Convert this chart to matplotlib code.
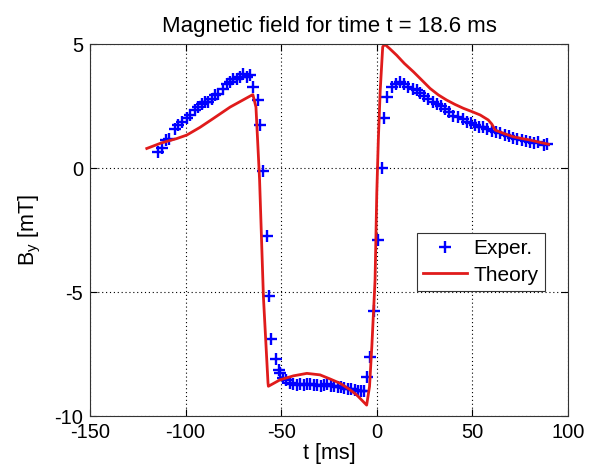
import numpy as np
import matplotlib.pyplot as plt

plt.rcParams['font.family'] = ['Liberation Sans', 'DejaVu Sans']
plt.rcParams['axes.unicode_minus'] = False

t_exp = [-114.2, -112.4, -110.2, -108.5, -105.5, -103.8, -102.0, -99.4, -97.7, -95.0,
         -93.3, -91.6, -89.8, -88.1, -86.3, -84.6, -82.8, -80.3, -78.4, -76.7,
         -75.0, -73.3, -71.5, -69.8, -68.0, -66.2, -64.5, -62.3, -61.0, -59.6,
         -57.6, -56.4, -55.2, -52.7, -51.3, -50.6, -49.1, -47.4, -45.5, -43.7,
         -41.9, -40.1, -38.3, -36.5, -34.8, -33.0, -31.2, -29.4, -27.6, -25.8,
         -24.1, -22.3, -20.5, -18.7, -16.9, -15.1, -13.4, -11.6, -9.8, -8.0,
         -6.5, -5.3, -3.5, -1.4, 0.8, 2.6, 4.0, 5.2, 7.9, 10.1,
         12.1, 14.3, 16.5, 18.9, 20.9, 22.6, 24.8, 27.0, 29.2, 31.4,
         33.6, 35.8, 38.0, 40.0, 42.7, 45.0, 47.0, 49.3, 51.4, 53.7,
         55.8, 57.8, 60.2, 62.4, 64.5, 66.8, 69.0, 71.5, 73.5, 75.9,
         78.1, 80.2, 82.3, 84.5, 87.2, 88.9]
b_exp = [0.66, 0.79, 1.15, 1.19, 1.56, 1.73, 1.86, 2.00, 2.13, 2.33,
         2.46, 2.60, 2.67, 2.67, 2.80, 2.94, 3.00, 3.20, 3.41, 3.47,
         3.61, 3.61, 3.67, 3.81, 3.67, 3.74, 3.27, 2.76, 1.73, -0.12,
         -2.76, -5.17, -6.90, -7.70, -8.14, -8.28, -8.48, -8.54, -8.68, -8.71,
         -8.74, -8.72, -8.76, -8.70, -8.72, -8.76, -8.74, -8.78, -8.76, -8.72,
         -8.80, -8.78, -8.84, -8.82, -8.88, -8.90, -8.92, -8.96, -8.98, -9.01,
         -8.98, -8.41, -7.61, -5.76, -2.90, -0.01, 2.00, 2.87, 3.27, 3.41,
         3.47, 3.41, 3.27, 3.20, 3.14, 3.03, 2.90, 2.80, 2.67, 2.60,
         2.49, 2.40, 2.26, 2.09, 2.06, 1.96, 1.86, 1.82, 1.73, 1.66,
         1.64, 1.56, 1.50, 1.46, 1.40, 1.33, 1.29, 1.23, 1.19, 1.15,
         1.10, 1.06, 1.02, 1.06, 0.92, 0.96]

# Theory curve
t_th = [-120.3, -112.8, -104.6, -99.4, -92.5, -85.5, -76.7, -70.1, -65.4, -64.8,
        -63.2, -61.3, -59.3, -56.9, -56.7, -50.6, -43.6, -36.6, -29.7, -24.3,
        -19.2, -14.6, -10.5, -5.3, -3.8, -2.6, -0.9, 0.0, 0.8, 1.8,
        3.1, 4.2, 6.7, 10.4, 14.4, 19.2, 23.5, 27.9, 32.2, 36.6,
        40.8, 45.3, 50.0, 54.1, 58.3, 60.2, 61.9, 66.3, 71.5, 76.0,
        80.2, 85.1, 89.8]
b_th = [0.79, 1.01, 1.19, 1.33, 1.64, 2.00, 2.46, 2.74, 2.94, 2.96,
        2.46, -0.48, -5.19, -8.66, -8.80, -8.54, -8.38, -8.28, -8.34, -8.51,
        -8.68, -8.91, -9.15, -9.56, -8.81, -7.21, -4.51, -1.01, 1.13, 3.14,
        4.89, 4.99, 4.82, 4.55, 4.22, 3.88, 3.55, 3.21, 2.95, 2.74,
        2.57, 2.41, 2.27, 2.14, 1.94, 1.77, 1.53, 1.40, 1.26, 1.19,
        1.13, 1.04, 0.96]

fig = plt.figure(figsize=(5.98, 4.72), dpi=100)
ax = fig.add_axes([0.1505, 0.1186, 0.7993, 0.788])

ax.plot(t_exp, b_exp, '+', color='#0000ff', markersize=8, markeredgewidth=1.7, label='Exper.')
ax.plot(t_th, b_th, '-', color='#e01b1b', linewidth=2, label='Theory')

ax.set_xlim(-150, 100)
ax.set_ylim(-10, 5)
ax.set_xticks([-150, -100, -50, 0, 50, 100])
ax.set_yticks([-10, -5, 0, 5])
ax.grid(True, color='black', linestyle=(0, (1, 2.5)), linewidth=0.8)
ax.tick_params(direction='in', top=True, right=True, labelsize=14.5, length=5, pad=5)
for s in ax.spines.values():
    s.set_color('#333333')

ax.set_title('Magnetic field for time t = 18.6 ms', fontsize=16, pad=9)
ax.set_xlabel('t [ms]', fontsize=15.5, labelpad=1)
ax.set_ylabel('B$_\\mathregular{y}$ [mT]', fontsize=15.5, labelpad=8)

leg = ax.legend(loc='upper left', bbox_to_anchor=(0.684, 0.492), borderaxespad=0,
                fancybox=False, framealpha=1, edgecolor='#333333', fontsize=15,
                handlelength=2.1, handletextpad=0.3, labelspacing=0.35,
                borderpad=0.3)
leg.get_frame().set_linewidth(0.8)

plt.savefig('out.png', dpi=100)
